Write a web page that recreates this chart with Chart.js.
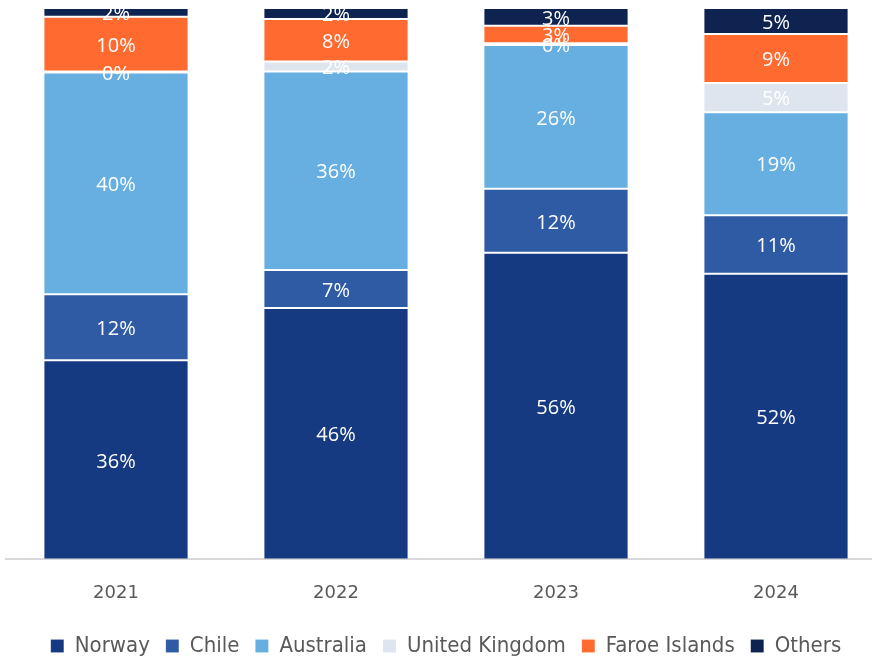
<!DOCTYPE html>
<html>
<head>
<meta charset="utf-8">
<script src="https://cdn.jsdelivr.net/npm/chart.js@4/dist/chart.umd.min.js"></script>
<style>
  html, body { margin: 0; padding: 0; background: #fff; overflow: hidden; }
  #wrap { width: 892px; height: 657px; position: relative; }
</style>
</head>
<body>
<div id="wrap"><canvas id="c"></canvas></div>
<script>
const categories = ['2021', '2022', '2023', '2024'];
const seriesNames = ['Norway', 'Chile', 'Australia', 'United Kingdom', 'Faroe Islands', 'Others'];
const norway = [36.1, 45.6, 55.6, 51.8];
const chile = [12.0, 6.9, 11.6, 10.6];
const australia = [40.2, 36.0, 26.1, 18.7];
const unitedKingdom = [0.2, 1.8, 0.3, 5.3];
const faroeIslands = [9.9, 7.7, 3.2, 8.9];
const others = [1.6, 2.0, 3.2, 4.7];
const colors = ['#163A82', '#2E5BA3', '#67AFE0', '#DFE5EF', '#FF6A30', '#0E2350'];

const seriesValues = [norway, chile, australia, unitedKingdom, faroeIslands, others];

const labelPlugin = {
  id: 'segLabels',
  afterDatasetsDraw(chart) {
    const ctx = chart.ctx;
    ctx.save();
    ctx.font = '20px "Open Sans", sans-serif';
    ctx.fillStyle = '#ffffff';
    ctx.textAlign = 'center';
    ctx.textBaseline = 'middle';
    chart.data.datasets.forEach((ds, i) => {
      const meta = chart.getDatasetMeta(i);
      meta.data.forEach((el, j) => {
        const v = ds.data[j];
        const cy = (el.y + el.base) / 2;
        ctx.fillText(Math.round(v) + '%', el.x, cy + 2);
      });
    });
    ctx.restore();
  }
};

new Chart(document.getElementById('c'), {
  type: 'bar',
  data: {
    labels: categories,
    datasets: seriesNames.map((name, i) => ({
      label: name,
      data: seriesValues[i],
      backgroundColor: colors[i],
      borderColor: 'rgba(255,255,255,0.12)',
      borderWidth: 1,
      borderSkipped: false,
      categoryPercentage: 0.66,
      barPercentage: 1.0
    }))
  },
  options: {
    responsive: true,
    maintainAspectRatio: false,
    animation: false,
    layout: { padding: { top: 8, left: 6, right: 6, bottom: -10 } },
    scales: {
      x: {
        stacked: true,
        grid: { display: false },
        border: { display: true, color: '#d9d9d9', width: 2 },
        ticks: { color: '#595959', font: { family: '"DejaVu Sans", sans-serif', size: 18 }, padding: 15 }
      },
      y: {
        stacked: true,
        display: false,
        min: 0,
        max: 100
      }
    },
    plugins: {
      tooltip: { enabled: false },
      legend: {
        position: 'bottom',
        labels: {
          boxWidth: 13,
          boxHeight: 13,
          color: '#595959',
          padding: 16,
          font: { family: '"DejaVu Sans Condensed", "Open Sans", sans-serif', size: 22 }
        }
      }
    }
  },
  plugins: [labelPlugin]
});
</script>
</body>
</html>
